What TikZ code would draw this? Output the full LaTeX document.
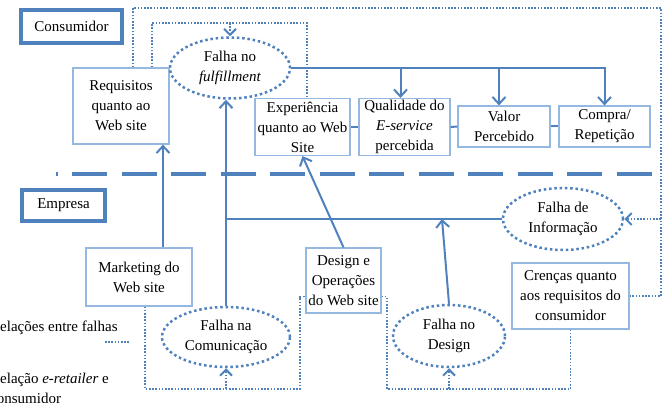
\documentclass[tikz,border=0pt]{standalone}
\usepackage{fontspec}
\setmainfont{Liberation Serif}
\usetikzlibrary{shapes.geometric,arrows.meta}
\definecolor{azul}{RGB}{79,129,189}
\definecolor{azulclaro}{RGB}{149,184,225}

\begin{document}
\begin{tikzpicture}[x=1pt,y=-1pt,font=\fontsize{15}{20}\selectfont,
  caixa/.style={draw=azulclaro,line width=1.2pt,align=center,inner sep=0pt},
  grupo/.style={draw=azul,line width=3.5pt,inner sep=0pt},
  falha/.style={ellipse,draw=azul,line width=2.5pt,dash pattern=on 2.5pt off 2.8pt,align=center,inner sep=0pt},
  liga/.style={draw=azul,line width=2pt},
  seta/.style={liga,-{Straight Barb[length=7pt,width=13pt,line width=2pt]}},
  rel/.style={draw=azul,line width=1.6pt,dash pattern=on 1.6pt off 1.6pt},
  relseta/.style={rel,-{Straight Barb[length=6pt,width=12pt,line width=2pt]}}]

\clip (0,0) rectangle (666,403);

% grupos
\node[grupo,minimum width=101pt,minimum height=33pt] (cons) at (71.5,26.5) {Consumidor};
\node[grupo,minimum width=83pt,minimum height=31pt] (emp) at (63.5,205.5) {Empresa};

\draw[azul,line width=4pt] (56,174) -- (58,174);
\draw[azul,line width=4pt,dash pattern=on 35pt off 14.5pt] (72,174) -- (653,174);

% lado do consumidor
\node[caixa,minimum width=96pt,minimum height=76pt] (req) at (121,106) {Requisitos\\quanto ao\\Web site};
\node[falha,minimum width=120pt,minimum height=61pt] (ful) at (230,68) {Falha no\\\textit{fulfillment}};
\node[caixa,minimum width=95pt,minimum height=57pt] (exp) at (302.5,127) {Experiência\\quanto ao Web\\Site};
\node[caixa,minimum width=91pt,minimum height=57pt] (qual) at (404.5,127) {Qualidade do\\\textit{E-service}\\percebida};
\node[caixa,minimum width=92pt,minimum height=41pt] (valor) at (504,126.5) {Valor\\Percebido};
\node[caixa,minimum width=91pt,minimum height=41pt] (compra) at (604.5,126.5) {Compra/\\Repetição};

% lado da empresa
\node[falha,minimum width=120pt,minimum height=62pt] (info) at (563,219) {Falha de\\Informação};
\node[caixa,minimum width=106pt,minimum height=58pt] (mkt) at (139,277) {Marketing do\\Web site};
\node[caixa,minimum width=75pt,minimum height=65pt] (dop) at (343.5,280.5) {Design e\\Operações\\do Web site};
\node[caixa,minimum width=117pt,minimum height=66pt] (cren) at (570.5,296) {Crenças quanto\\aos requisitos do\\consumidor};
\node[falha,minimum width=128pt,minimum height=60pt] (com) at (226,337) {Falha na\\Comunicação};
\node[falha,minimum width=112pt,minimum height=62pt] (fdes) at (449,336) {Falha no\\Design};

% legenda
\node[anchor=west,inner sep=0pt] (leg1) at (-10,328) {Relações entre falhas};
\node[anchor=west,align=left,inner sep=0pt] (leg2) at (-10,388) {Relação \textit{e-retailer} e\\consumidor};
\coordinate (l1a) at (105,342);
\coordinate (l1b) at (130,342);
\draw[rel] (l1a) -- (l1b);

% ligacoes
\draw[seta] (ful.east) -| (compra.north);
\draw[seta] ([xshift=-4pt]qual.north |- ful.east) -- ([xshift=-4pt]qual.north);
\draw[seta] ([xshift=-5pt]valor.north |- ful.east) -- ([xshift=-5pt]valor.north);
\draw[liga] (exp.east) -- (qual.west);
\draw[liga] (qual.east) -- (valor.west);
\draw[liga] (valor.east) -- (compra.west);

\draw[seta] ([xshift=24pt]mkt.north) -- ([xshift=24pt]mkt.north |- req.south);
\draw[seta] (com.north) -- (com.north |- ful.south);
\draw[liga] (info.west) -- (info.west -| com.north);
\draw[seta] (fdes.north) -- ([xshift=-7pt]fdes.north |- info.west);
\draw[seta] (dop.north) -- (exp.south);

% relacoes entre falhas
\coordinate (topout) at (661,8);
\coordinate (topin) at (307,23);
\coordinate (botl) at (300,389);
\coordinate (botr) at (387,389);
\draw[rel] ([xshift=12pt]req.north) |- (topout) |- (cren.east);
\draw[relseta] (topout |- info.east) -- (info.east);
\draw[rel] ([xshift=31pt]req.north) |- (topin) -- (topin |- exp.north);
\draw[relseta] (ful.north |- topin) -- (ful.north);
\draw[rel] ([xshift=6pt]mkt.south) |- (botl) |- ([yshift=-16pt]dop.west);
\draw[relseta] (com.south |- botl) -- (com.south);
\draw[rel] ([yshift=-16pt]dop.east) -| (botr) -| (cren.south);
\draw[relseta] (fdes.south |- botr) -- (fdes.south);

\end{tikzpicture}
\end{document}
